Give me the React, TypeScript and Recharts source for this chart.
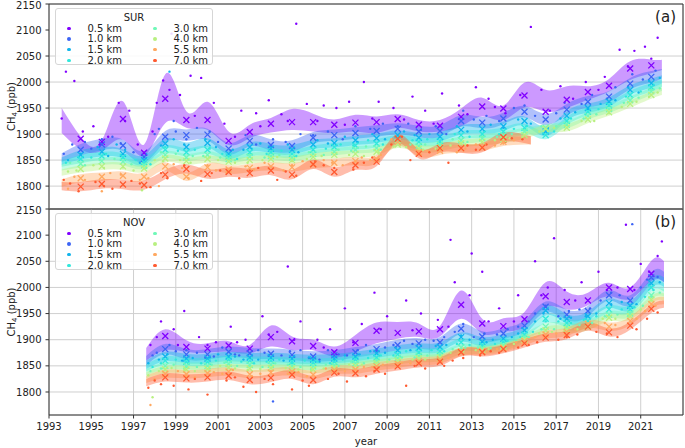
import { ComposedChart, Area, Scatter, XAxis, YAxis, CartesianGrid, ReferenceArea } from 'recharts';

const ALTS = ['0.5 km', '1.0 km', '1.5 km', '2.0 km', '3.0 km', '4.0 km', '5.5 km', '7.0 km'];
const COLORS = ['#8000ff', '#3c64f5', '#10b4ec', '#30e8dc', '#70f8b8', '#b8f080', '#ffa860', '#ff5a30'];
const YEAR_TICKS = [1993, 1995, 1997, 1999, 2001, 2003, 2005, 2007, 2009, 2011, 2013, 2015, 2017, 2019, 2021];
const Y_TICKS = [1800, 1850, 1900, 1950, 2000, 2050, 2100, 2150];

// ---- SUR (panel a) annual means ----
const SUR_YEARS = [1994.5, 1995.5, 1996.5, 1997.5, 1998.5, 1999.5, 2000.5, 2001.5, 2002.5, 2003.5, 2004.5, 2005.5, 2006.5, 2007.5, 2008.5, 2009.5, 2010.5, 2011.5, 2012.5, 2013.5, 2014.5, 2015.5, 2016.5, 2017.5, 2018.5, 2019.5, 2020.5, 2021.5];
const SUR_05 = [1891, 1885, 1929, 1864, 1968, 1927, 1927, 1887, 1904, 1920, 1923, 1923, 1918, 1922, 1923, 1929, 1918, 1916, 1933, 1953, 1949, 1974, 1943, 1966, 1981, 1993, 2026, 2032];
const SUR_10 = [1870, 1880, 1878, 1856, 1895, 1898, 1899, 1872, 1887, 1879, 1877, 1893, 1898, 1902, 1906, 1910, 1905, 1906, 1925, 1922, 1930, 1943, 1928, 1947, 1962, 1972, 1997, 2010];
const SUR_15 = [1860, 1866, 1862, 1850, 1882, 1875, 1883, 1862, 1875, 1872, 1870, 1880, 1883, 1888, 1892, 1898, 1893, 1895, 1908, 1910, 1915, 1925, 1905, 1935, 1950, 1962, 1985, 1998];
const SUR_20 = [1852, 1858, 1855, 1846, 1870, 1865, 1870, 1857, 1865, 1865, 1862, 1870, 1875, 1878, 1882, 1890, 1885, 1887, 1898, 1900, 1905, 1912, 1898, 1925, 1943, 1955, 1975, 1990];
const SUR_30 = [1843, 1848, 1847, 1840, 1860, 1855, 1860, 1852, 1857, 1858, 1855, 1862, 1866, 1870, 1873, 1885, 1877, 1880, 1888, 1892, 1898, 1905, 1912, 1918, 1935, 1948, 1965, 1982];
const SUR_40 = [1833, 1838, 1838, 1834, 1853, 1848, 1852, 1847, 1850, 1852, 1850, 1856, 1860, 1862, 1866, 1880, 1872, 1874, 1882, 1885, 1890, 1898, 1910, 1912, 1928, 1942, 1958, 1975];
const SUR_55 = [1815, 1818, 1820, 1818, 1838, 1818, 1836, 1832, 1835, 1838, 1836, 1842, 1845, 1848, 1852, 1885, 1865, 1868, 1872, 1875, 1885];
const SUR_70 = [1799, 1804, 1803, 1802, 1822, 1833, 1823, 1827, 1825, 1830, 1822, 1842, 1827, 1840, 1847, 1891, 1862, 1873, 1873, 1874, 1894];
// smoothed band for 0.5 km (centre, half width)
const SUR_BAND05_MID = [1883, 1878, 1926, 1869, 1968, 1928, 1935, 1892, 1905, 1917, 1928, 1922, 1915, 1921, 1918, 1925, 1916, 1916, 1932, 1952, 1941, 1975, 1964, 1971, 1979, 1994, 2022, 2030];
const SUR_BAND05_HALF = [12, 10, 37, 11, 47, 16, 27, 13, 13, 14, 20, 17, 13, 16, 16, 13, 11, 11, 17, 18, 14, 24, 21, 21, 13, 12, 18, 13];
const SUR_BAND_HALF = [0, 11, 9, 8, 7, 7, 8, 9];
const SUR_START_T = 1993.6;
const SUR_START_MID = [1926, 1855, 1848, 1843, 1836, 1826, 1806, 1800];
const SUR_START_HALF = [24, 8, 7, 6, 6, 6, 7, 8];
const SUR_END_T = [2022, 2022, 2022, 2022, 2022, 2022, 2015.8, 2015.8];
const SUR_END_MID = [2033, 2016, 2005, 1998, 1990, 1982, 1888, 1888];
const SUR_END_HALF = [10, 9, 8, 7, 7, 7, 8, 8];

// ---- NOV (panel b) annual means ----
const NOV_YEARS = [1998.5, 1999.5, 2000.5, 2001.5, 2002.5, 2003.5, 2004.5, 2005.5, 2006.5, 2007.5, 2008.5, 2009.5, 2010.5, 2011.5, 2012.5, 2013.5, 2014.5, 2015.5, 2016.5, 2017.5, 2018.5, 2019.5, 2020.5, 2021.5];
const NOV_05 = [1907, 1886, 1883, 1889, 1883, 1905, 1897, 1888, 1876, 1894, 1917, 1913, 1916, 1920, 1967, 1931, 1926, 1939, 1983, 1972, 1975, 2000, 1997, 2026];
const NOV_10 = [1882, 1872, 1872, 1877, 1874, 1873, 1871, 1868, 1870, 1876, 1882, 1890, 1893, 1895, 1921, 1906, 1912, 1927, 1963, 1948, 1955, 1985, 1975, 2019];
const NOV_15 = [1868, 1864, 1864, 1868, 1866, 1866, 1864, 1862, 1864, 1868, 1874, 1880, 1884, 1886, 1905, 1896, 1902, 1918, 1956, 1940, 1945, 1970, 1965, 2008];
const NOV_20 = [1860, 1858, 1858, 1862, 1860, 1860, 1858, 1856, 1858, 1862, 1866, 1872, 1876, 1878, 1895, 1890, 1896, 1910, 1940, 1932, 1936, 1958, 1958, 2000];
const NOV_30 = [1850, 1850, 1850, 1854, 1852, 1852, 1850, 1849, 1851, 1855, 1860, 1865, 1869, 1871, 1885, 1884, 1890, 1905, 1925, 1925, 1930, 1948, 1950, 1985];
const NOV_40 = [1843, 1843, 1844, 1847, 1845, 1846, 1845, 1843, 1846, 1850, 1855, 1860, 1864, 1866, 1878, 1880, 1886, 1900, 1918, 1920, 1925, 1942, 1945, 1977];
const NOV_55 = [1835, 1834, 1836, 1839, 1834, 1837, 1839, 1833, 1842, 1843, 1849, 1854, 1859, 1862, 1877, 1878, 1884, 1897, 1910, 1915, 1930, 1925, 1936, 1968];
const NOV_70 = [1828, 1826, 1828, 1831, 1823, 1827, 1833, 1823, 1837, 1836, 1843, 1849, 1855, 1858, 1876, 1876, 1882, 1893, 1904, 1909, 1925, 1914, 1927, 1959];
const NOV_BAND05_MID = [1900, 1888, 1884, 1887, 1882, 1907, 1893, 1890, 1877, 1893, 1913, 1918, 1918, 1916, 1967, 1926, 1928, 1939, 1986, 1975, 1978, 1996, 1989, 2032];
const NOV_BAND05_HALF = [20, 11, 9, 10, 8, 20, 13, 10, 10, 16, 20, 16, 13, 10, 27, 14, 13, 14, 24, 17, 12, 13, 11, 19];
const NOV_BAND_HALF = [0, 10, 9, 8, 7, 7, 8, 8];
const NOV_START_T = 1997.6;
const NOV_START_MID = [1872, 1860, 1852, 1846, 1838, 1832, 1824, 1818];
const NOV_START_HALF = [12, 9, 8, 7, 6, 6, 7, 7];
const NOV_END_T = [2022.1, 2022.1, 2022.1, 2022.1, 2022.1, 2022.1, 2022.1, 2022.1];
const NOV_END_MID = [2030, 2020, 2010, 2000, 1990, 1982, 1975, 1968];
const NOV_END_HALF = [20, 10, 9, 8, 7, 7, 7, 7];

// ---- individual measurements [time, ppb] ----
const SUR_DOTS_05 = [[1993.8, 2020], [1994.2, 2002], [1994.6, 1905], [1995.1, 1915], [1995.8, 1895], [1996.3, 1960], [1996.8, 1945], [1997.2, 1880], [1997.9, 1905], [1998.4, 2003], [1998.8, 2093], [1998.7, 1985], [1999.2, 1975], [1999.7, 2012], [2000.2, 2008], [2000.8, 1960], [2001.3, 1920], [2002.1, 1945], [2002.8, 1940], [2003.4, 1965], [2004.0, 1938], [2004.7, 2112], [2005.2, 1958], [2006.0, 1955], [2006.6, 1950], [2007.2, 1962], [2007.9, 2000], [2008.6, 1962], [2009.3, 1950], [2010.2, 1972], [2010.8, 1945], [2011.6, 1978], [2012.4, 1955], [2013.2, 1990], [2013.8, 1968], [2014.6, 1940], [2015.8, 2106], [2016.3, 1985], [2017.2, 1992], [2018.4, 2000], [2019.3, 2010], [2020.0, 2062], [2020.7, 2060], [2021.2, 2068], [2021.8, 2085], [2021.5, 2045],
  [1993.6, 1930], [1995.4, 1880], [1996.6, 1925], [1998.1, 1960], [1999.9, 1935], [2001.8, 1895], [2003.0, 1915], [2004.3, 1925], [2005.7, 1925], [2007.0, 1918], [2008.3, 1930], [2009.8, 1928], [2011.2, 1920], [2012.8, 1938], [2014.1, 1952], [2015.3, 1975], [2016.7, 1945], [2017.8, 1968], [2019.0, 1985], [2020.4, 2030]];
const SUR_DOTS_10 = [[1994.1, 1880], [1995.0, 1872], [1996.0, 1895], [1997.0, 1865], [1998.2, 1910], [1999.0, 1905], [2000.0, 1912], [2001.0, 1885], [2002.3, 1898], [2003.6, 1890], [2004.9, 1900], [2006.2, 1905], [2007.5, 1915], [2008.8, 1920], [2010.0, 1920], [2011.3, 1915], [2012.6, 1945], [2013.7, 1935], [2015.0, 1950], [2016.0, 1935], [2017.4, 1960], [2018.7, 1975], [2019.8, 1990], [2020.6, 2015], [2021.7, 2022],
  [1993.7, 1862], [1994.7, 1885], [1995.5, 1890], [1996.4, 1882], [1997.4, 1848], [1998.0, 1900], [1998.9, 1925], [1999.5, 1890], [2000.6, 1905], [2001.6, 1868], [2002.8, 1880], [2004.2, 1885], [2005.5, 1898], [2006.9, 1890], [2008.2, 1910], [2009.5, 1915], [2010.6, 1908], [2011.8, 1900], [2013.1, 1928], [2014.3, 1925], [2015.5, 1955], [2017.0, 1940], [2018.2, 1958], [2019.4, 1968], [2021.1, 2005]];
const SUR_DOTS_15 = [[1993.9, 1850], [1995.3, 1875], [1996.6, 1870], [1997.6, 1862], [1998.7, 2020], [1998.9, 1890], [2000.4, 1890], [2001.7, 1870], [2003.0, 1882], [2004.3, 1880], [2005.7, 1888], [2007.0, 1895], [2008.3, 1900], [2009.8, 1905], [2011.0, 1900], [2012.3, 1915], [2013.9, 1918], [2015.2, 1928], [2016.6, 1912], [2017.9, 1942], [2019.1, 1958], [2020.4, 1990], [2021.4, 2002],
  [1994.5, 1862], [1995.8, 1858], [1996.2, 1880], [1997.3, 1845], [1998.3, 1878], [1999.4, 1880], [2000.9, 1875], [2002.2, 1870], [2003.5, 1876], [2004.8, 1865], [2006.2, 1882], [2007.6, 1885], [2008.9, 1890], [2010.3, 1898], [2011.6, 1890], [2012.8, 1905], [2014.5, 1912], [2015.8, 1920], [2017.2, 1930], [2018.5, 1948], [2019.8, 1965], [2020.9, 1980], [2021.9, 2008]];
const SUR_DOTS_20 = [[1994.4, 1855], [1995.7, 1862], [1997.1, 1850], [1998.5, 1875], [1999.9, 1870], [2001.2, 1862], [2002.6, 1872], [2004.0, 1868], [2005.4, 1875], [2006.8, 1880], [2008.1, 1888], [2009.5, 1895], [2010.9, 1890], [2012.2, 1900], [2013.6, 1905], [2015.0, 1910], [2016.4, 1900], [2017.7, 1930], [2019.0, 1948], [2020.3, 1972], [2021.6, 1995],
  [1993.8, 1845], [1995.0, 1855], [1996.4, 1860], [1997.8, 1842], [1999.1, 1868], [2000.6, 1872], [2001.9, 1852], [2003.3, 1862], [2004.7, 1858], [2006.1, 1872], [2007.4, 1878], [2008.8, 1880], [2010.2, 1888], [2011.5, 1884], [2012.9, 1895], [2014.3, 1900], [2015.6, 1915], [2016.9, 1905], [2018.4, 1938], [2019.6, 1958], [2021.0, 1982]];
const SUR_DOTS_30 = [[1994.0, 1845], [1995.4, 1850], [1996.9, 1842], [1998.3, 1865], [1999.8, 1858], [2001.1, 1855], [2002.5, 1862], [2003.9, 1860], [2005.3, 1865], [2006.7, 1870], [2008.0, 1876], [2009.4, 1888], [2010.8, 1880], [2012.1, 1890], [2013.5, 1895], [2014.9, 1900], [2016.3, 1915], [2017.6, 1922], [2018.9, 1938], [2020.2, 1960], [2021.5, 1985],
  [1994.7, 1840], [1996.1, 1852], [1997.6, 1835], [1999.0, 1862], [2000.3, 1858], [2001.8, 1850], [2003.2, 1855], [2004.6, 1852], [2006.0, 1860], [2007.3, 1868], [2008.7, 1870], [2010.1, 1880], [2011.4, 1878], [2012.8, 1885], [2014.2, 1895], [2015.5, 1908], [2017.0, 1915], [2018.3, 1930], [2019.6, 1945], [2020.9, 1970], [2021.9, 1988]];
const SUR_DOTS_40 = [[1994.3, 1830], [1995.6, 1835], [1997.0, 1830], [1997.4, 1792], [1998.4, 1848], [1999.7, 1845], [2001.0, 1850], [2002.4, 1845], [2003.8, 1856], [2005.2, 1852], [2006.6, 1862], [2007.9, 1858], [2009.3, 1876], [2010.7, 1870], [2012.0, 1878], [2013.4, 1888], [2014.8, 1892], [2016.2, 1905], [2017.5, 1918], [2018.8, 1925], [2020.1, 1952], [2021.4, 1972],
  [1993.9, 1828], [1995.1, 1840], [1996.5, 1836], [1998.0, 1850], [1999.2, 1850], [2000.6, 1855], [2001.8, 1845], [2003.1, 1850], [2004.5, 1848], [2005.9, 1858], [2007.2, 1860], [2008.6, 1865], [2009.9, 1875], [2011.3, 1872], [2012.7, 1880], [2014.1, 1888], [2015.4, 1895], [2016.9, 1912], [2018.2, 1925], [2019.5, 1940], [2020.8, 1962], [2021.8, 1980]];
const SUR_DOTS_55 = [[1993.9, 1795], [1994.7, 1812], [1995.5, 1790], [1996.4, 1822], [1997.3, 1812], [1998.2, 1800], [1998.9, 1842], [1999.6, 1815], [2000.5, 1840], [2001.4, 1825], [2002.3, 1838], [2003.2, 1845], [2004.1, 1830], [2005.0, 1848], [2006.0, 1850], [2006.9, 1840], [2007.8, 1855], [2008.7, 1860], [2009.6, 1880], [2010.5, 1862], [2011.4, 1872], [2012.3, 1865], [2013.2, 1880], [2014.1, 1878], [2015.0, 1888],
  [1994.2, 1818], [1995.9, 1825], [1997.7, 1815], [1999.3, 1835], [2000.9, 1830], [2002.7, 1832], [2004.5, 1840], [2006.4, 1845], [2008.2, 1850], [2009.2, 1890], [2010.9, 1868], [2012.7, 1872], [2014.5, 1882], [2015.4, 1892]];
const SUR_DOTS_70 = [[1993.7, 1812], [1994.4, 1790], [1995.2, 1808], [1996.0, 1795], [1996.9, 1810], [1997.8, 1798], [1998.6, 1815], [1999.4, 1840], [2000.2, 1810], [2001.1, 1830], [2002.0, 1815], [2002.9, 1835], [2003.8, 1812], [2004.7, 1820], [2005.6, 1848], [2006.5, 1835], [2007.4, 1832], [2008.3, 1855], [2009.2, 1880], [2010.1, 1850], [2011.0, 1865], [2011.9, 1845], [2012.8, 1878], [2013.7, 1880], [2014.6, 1885], [2015.4, 1890],
  [1994.0, 1805], [1995.6, 1800], [1997.3, 1805], [1998.3, 1825], [2000.7, 1825], [2002.5, 1830], [2004.2, 1828], [2006.0, 1840], [2007.9, 1845], [2009.7, 1895], [2011.4, 1870], [2013.2, 1870], [2014.9, 1892]];

const NOV_DOTS_05 = [[1997.8, 1890], [1998.3, 1935], [1998.9, 1920], [1999.4, 1955], [2000.1, 1905], [2000.9, 1895], [2001.6, 1925], [2002.3, 1900], [2003.1, 1945], [2003.8, 1915], [2004.3, 2040], [2004.9, 1935], [2005.7, 1900], [2006.3, 1920], [2007.0, 1960], [2007.8, 1930], [2008.4, 1990], [2009.0, 1945], [2009.9, 1975], [2010.6, 1950], [2011.4, 1938], [2012.0, 2091], [2012.2, 2010], [2012.9, 1985], [2013.0, 2065], [2013.5, 2030], [2014.3, 1960], [2015.2, 1985], [2016.0, 2050], [2016.6, 2000], [2016.9, 2094], [2017.4, 1995], [2018.2, 2010], [2019.0, 2030], [2019.9, 2000], [2020.3, 2120], [2021.0, 2045], [2021.8, 2060], [2022.0, 2088],
  [1998.1, 1905], [1999.1, 1890], [2000.5, 1890], [2001.9, 1895], [2003.4, 1910], [2004.6, 1900], [2006.0, 1885], [2007.4, 1895], [2008.7, 1920], [2010.2, 1918], [2011.9, 1925], [2013.8, 1935], [2015.0, 1935], [2016.3, 1985], [2017.9, 1975], [2019.4, 1995], [2020.7, 1995], [2021.4, 2030]];
const NOV_DOTS_10 = [[1997.9, 1870], [1998.7, 1890], [1999.5, 1880], [2000.4, 1865], [2001.2, 1885], [2002.0, 1870], [2002.9, 1880], [2003.6, 1782], [2004.4, 1878], [2005.3, 1865], [2006.2, 1880], [2007.1, 1870], [2008.0, 1890], [2008.9, 1885], [2009.8, 1898], [2010.8, 1900], [2011.7, 1905], [2012.6, 1930], [2013.6, 1912], [2014.7, 1920], [2015.7, 1935], [2016.5, 1965], [2017.6, 1955], [2018.6, 1960], [2019.6, 1990], [2020.6, 2121], [2021.3, 2015],
  [1998.1, 1875], [1999.0, 1878], [2000.0, 1875], [2000.8, 1868], [2001.8, 1872], [2003.2, 1875], [2004.0, 1870], [2004.9, 1880], [2005.8, 1862], [2006.7, 1872], [2007.6, 1880], [2008.5, 1878], [2009.3, 1890], [2010.2, 1892], [2011.2, 1898], [2012.2, 1915], [2013.1, 1905], [2014.2, 1910], [2015.2, 1925], [2016.0, 1950], [2017.1, 1945], [2018.1, 1958], [2019.1, 1975], [2020.0, 1985], [2021.0, 2000], [2021.8, 2020]];
const NOV_DOTS_15 = [[1997.7, 1855], [1998.6, 1872], [1999.8, 1865], [2001.0, 1872], [2002.2, 1862], [2003.4, 1870], [2004.6, 1868], [2005.8, 1858], [2007.0, 1870], [2008.2, 1878], [2009.4, 1885], [2010.6, 1888], [2011.8, 1890], [2012.9, 1900], [2014.0, 1900], [2015.2, 1912], [2016.4, 1950], [2017.7, 1942], [2018.9, 1950], [2020.1, 1972], [2021.4, 2005],
  [1998.2, 1862], [1999.3, 1860], [2000.6, 1866], [2001.8, 1868], [2002.9, 1862], [2004.1, 1860], [2005.3, 1866], [2006.5, 1860], [2007.7, 1872], [2008.9, 1875], [2010.1, 1880], [2011.3, 1888], [2012.5, 1908], [2013.7, 1895], [2014.9, 1905], [2016.0, 1935], [2017.2, 1940], [2018.4, 1945], [2019.6, 1968], [2020.8, 1968], [2021.9, 2010]];
const NOV_DOTS_20 = [[1997.9, 1848], [1999.0, 1862], [2000.2, 1855], [2001.5, 1866], [2002.7, 1855], [2003.9, 1862], [2005.1, 1860], [2006.3, 1855], [2007.5, 1865], [2008.7, 1870], [2009.9, 1878], [2011.1, 1880], [2012.3, 1892], [2013.5, 1888], [2014.7, 1898], [2015.9, 1915], [2017.1, 1935], [2018.3, 1938], [2019.5, 1960], [2020.7, 1962], [2021.6, 1995],
  [1998.3, 1855], [1999.6, 1855], [2000.9, 1860], [2002.1, 1858], [2003.3, 1858], [2004.5, 1855], [2005.7, 1858], [2006.9, 1862], [2008.1, 1865], [2009.3, 1870], [2010.5, 1875], [2011.7, 1878], [2012.9, 1890], [2014.1, 1892], [2015.3, 1905], [2016.5, 1935], [2017.7, 1932], [2018.9, 1945], [2020.1, 1958], [2021.2, 1982]];
const NOV_DOTS_30 = [[1997.8, 1840], [1998.9, 1852], [2000.0, 1848], [2001.3, 1856], [2002.5, 1850], [2003.7, 1855], [2004.9, 1848], [2006.1, 1852], [2007.3, 1858], [2008.5, 1862], [2009.7, 1866], [2010.9, 1870], [2012.1, 1882], [2013.3, 1885], [2014.5, 1888], [2015.7, 1905], [2016.9, 1920], [2018.1, 1928], [2019.3, 1945], [2020.5, 1952], [2021.5, 1982],
  [1998.3, 1845], [1999.5, 1848], [2000.7, 1852], [2001.9, 1850], [2003.1, 1848], [2004.3, 1852], [2005.5, 1850], [2006.7, 1850], [2007.9, 1855], [2009.1, 1862], [2010.3, 1866], [2011.5, 1872], [2012.7, 1885], [2013.9, 1884], [2015.1, 1898], [2016.3, 1920], [2017.5, 1925], [2018.7, 1932], [2019.9, 1948], [2021.1, 1965], [2021.9, 1990]];
const NOV_DOTS_40 = [[1997.7, 1832], [1997.9, 1790], [1998.8, 1846], [1999.9, 1840], [2001.1, 1850], [2002.4, 1842], [2003.6, 1848], [2004.8, 1843], [2006.0, 1845], [2007.2, 1852], [2008.4, 1855], [2009.6, 1862], [2010.8, 1862], [2012.0, 1875], [2013.2, 1880], [2014.4, 1885], [2015.6, 1898], [2016.8, 1915], [2018.0, 1920], [2019.2, 1940], [2020.4, 1945], [2021.5, 1975],
  [1998.2, 1840], [1999.4, 1842], [2000.6, 1845], [2001.8, 1845], [2003.0, 1844], [2004.2, 1846], [2005.4, 1842], [2006.6, 1848], [2007.8, 1852], [2009.0, 1858], [2010.2, 1862], [2011.4, 1866], [2012.6, 1878], [2013.8, 1882], [2015.0, 1892], [2016.2, 1912], [2017.4, 1918], [2018.6, 1926], [2019.8, 1940], [2021.0, 1958]];
const NOV_DOTS_55 = [[1997.8, 1775], [1998.4, 1830], [1999.1, 1840], [1999.9, 1828], [2000.8, 1838], [2001.7, 1842], [2002.6, 1830], [2003.5, 1840], [2004.3, 1835], [2005.2, 1830], [2006.1, 1845], [2007.0, 1840], [2007.9, 1848], [2008.8, 1852], [2009.7, 1856], [2010.6, 1860], [2011.5, 1865], [2012.4, 1875], [2013.3, 1880], [2014.2, 1882], [2015.1, 1895], [2016.0, 1905], [2017.0, 1912], [2017.9, 1920], [2018.9, 1928], [2019.8, 1928], [2020.8, 1940], [2021.7, 1965],
  [1998.0, 1825], [1999.5, 1830], [2001.2, 1835], [2003.0, 1835], [2004.8, 1838], [2006.6, 1842], [2008.3, 1848], [2010.1, 1855], [2011.9, 1865], [2013.7, 1878], [2015.5, 1898], [2017.4, 1915], [2019.3, 1932], [2021.2, 1955]];
const NOV_DOTS_70 = [[1997.7, 1808], [1998.3, 1815], [1998.9, 1812], [1999.6, 1805], [2000.5, 1795], [2001.4, 1822], [2002.2, 1810], [2002.8, 1800], [2003.6, 1815], [2004.5, 1805], [2005.3, 1812], [2006.2, 1825], [2007.1, 1820], [2008.0, 1830], [2008.9, 1835], [2009.9, 1812], [2010.8, 1845], [2011.7, 1850], [2012.6, 1865], [2013.4, 1870], [2014.3, 1875], [2015.2, 1885], [2016.1, 1895], [2017.1, 1900], [2018.0, 1910], [2018.9, 1915], [2019.9, 1905], [2020.8, 1920], [2021.8, 1952],
  [1998.0, 1822], [1999.9, 1825], [2001.8, 1828], [2003.2, 1825], [2005.0, 1822], [2006.7, 1835], [2008.4, 1840], [2010.3, 1850], [2012.1, 1860], [2013.9, 1878], [2015.7, 1890], [2017.5, 1905], [2019.4, 1912], [2021.3, 1940]];

const SUR_MEANS = [SUR_05, SUR_10, SUR_15, SUR_20, SUR_30, SUR_40, SUR_55, SUR_70];
const NOV_MEANS = [NOV_05, NOV_10, NOV_15, NOV_20, NOV_30, NOV_40, NOV_55, NOV_70];
const SUR_DOTS = [SUR_DOTS_05, SUR_DOTS_10, SUR_DOTS_15, SUR_DOTS_20, SUR_DOTS_30, SUR_DOTS_40, SUR_DOTS_55, SUR_DOTS_70];
const NOV_DOTS = [NOV_DOTS_05, NOV_DOTS_10, NOV_DOTS_15, NOV_DOTS_20, NOV_DOTS_30, NOV_DOTS_40, NOV_DOTS_55, NOV_DOTS_70];

const FONT = 'DejaVu Sans, sans-serif';

function buildBands(
  years: number[], means: number[][], mid05: number[], half05: number[], halves: number[],
  startT: number, startMid: number[], startHalf: number[],
  endT: number[], endMid: number[], endHalf: number[],
) {
  const rows = new Map<number, any>();
  const put = (t: number, key: string, mid: number, half: number) => {
    if (!rows.has(t)) rows.set(t, { t });
    rows.get(t)[key] = [mid - half, mid + half];
  };
  means.forEach((m, i) => {
    const key = 'b' + i;
    put(startT, key, startMid[i], startHalf[i]);
    m.forEach((v, k) => put(years[k], key, i === 0 ? mid05[k] : v, i === 0 ? half05[k] : halves[i]));
    put(endT[i], key, endMid[i], endHalf[i]);
  });
  return [...rows.values()].sort((a, b) => a.t - b.t);
}

const SUR_ROWS = buildBands(SUR_YEARS, SUR_MEANS, SUR_BAND05_MID, SUR_BAND05_HALF, SUR_BAND_HALF,
  SUR_START_T, SUR_START_MID, SUR_START_HALF, SUR_END_T, SUR_END_MID, SUR_END_HALF);
const NOV_ROWS = buildBands(NOV_YEARS, NOV_MEANS, NOV_BAND05_MID, NOV_BAND05_HALF, NOV_BAND_HALF,
  NOV_START_T, NOV_START_MID, NOV_START_HALF, NOV_END_T, NOV_END_MID, NOV_END_HALF);

const cross = (color: string) => (p: any) => {
  const { cx, cy } = p;
  if (cx == null || cy == null) return <g />;
  const s = 3;
  return (
    <path d={`M${cx - s},${cy - s}L${cx + s},${cy + s}M${cx - s},${cy + s}L${cx + s},${cy - s}`}
      stroke={color} strokeWidth={1.3} fill="none" />
  );
};

const dot = (color: string) => (p: any) => {
  const { cx, cy } = p;
  if (cx == null || cy == null) return <g />;
  return <circle cx={cx} cy={cy} r={1.2} fill={color} />;
};

const YLabel = ({ viewBox }: any) => {
  const cx = 15;
  const cy = viewBox.y + viewBox.height / 2;
  return (
    <text x={cx} y={cy} transform={`rotate(-90 ${cx} ${cy})`} textAnchor="middle" fontSize={10} fill="#222" fontFamily={FONT}>
      CH<tspan fontSize={7} dy={2}>4</tspan><tspan dy={-2}> (ppb)</tspan>
    </text>
  );
};

function LegendBox({ title, top }: { title: string; top: number }) {
  return (
    <div style={{
      position: 'absolute', left: 55, top, width: 158, height: 57, border: '1px solid #d6d6d6', borderRadius: 3,
      background: 'rgba(255,255,255,0.85)', fontFamily: FONT, fontSize: 10, color: '#222', boxSizing: 'border-box',
    }}>
      <div style={{ position: 'absolute', top: 3, left: 0, width: '100%', textAlign: 'center', lineHeight: '11px' }}>{title}</div>
      {ALTS.map((a, i) => {
        const col = i < 4 ? 0 : 1;
        const row = i % 4;
        const y = 13.5 + row * 10.7;
        return (
          <div key={a} style={{ position: 'absolute', top: y, left: col ? 86 : 0, lineHeight: '11px' }}>
            <span style={{ position: 'absolute', left: 11, top: 4, width: 3.5, height: 3.5, borderRadius: 2, background: COLORS[i] }} />
            <span style={{ position: 'absolute', left: 31.5, top: 0, whiteSpace: 'nowrap' }}>{a}</span>
          </div>
        );
      })}
    </div>
  );
}

function Panel({ rows, years, means, dots, showX, height, margin, letter }: any) {
  return (
    <ComposedChart width={685} height={height} data={rows} margin={margin}>
      <CartesianGrid stroke="#cfcfcf" strokeWidth={1} />
      <XAxis dataKey="t" type="number" domain={[1993, 2023]} ticks={YEAR_TICKS} allowDataOverflow
        height={showX ? 33 : 0} axisLine={false} tick={showX ? { fontSize: 10, fill: '#222', fontFamily: FONT } : false}
        tickLine={showX ? { stroke: '#333' } : false} tickSize={3.5} tickMargin={4.5}
        label={showX ? { value: 'year', position: 'insideBottom', offset: 3.5, fontSize: 10, fill: '#222', fontFamily: FONT } : undefined} />
      <YAxis type="number" domain={[1756, 2150]} ticks={Y_TICKS} allowDataOverflow width={49} axisLine={false}
        tick={{ fontSize: 10, fill: '#222', fontFamily: FONT }} tickLine={{ stroke: '#333' }} tickSize={3.5} tickMargin={4}
        label={{ content: <YLabel /> }} />
      {ALTS.map((a, i) => (
        <Area key={'band' + a} dataKey={'b' + i} type="natural" stroke="none" fill={COLORS[i]} fillOpacity={0.4}
          connectNulls isAnimationActive={false} dot={false} activeDot={false} />
      ))}
      {ALTS.map((a, i) => (
        <Scatter key={'dots' + a} data={dots[i].map((d: number[]) => ({ t: d[0], v: d[1] }))} dataKey="v"
          shape={dot(COLORS[i])} isAnimationActive={false} />
      ))}
      {ALTS.map((a, i) => (
        <Scatter key={'mean' + a} data={means[i].map((v: number, k: number) => ({ t: years[k], v }))} dataKey="v"
          shape={cross(COLORS[i])} isAnimationActive={false} />
      ))}
      <ReferenceArea x1={1993} x2={2023} y1={1756} y2={2150} fill="none" stroke="#333" strokeWidth={1} ifOverflow="visible"
        label={{ value: letter, position: 'insideTopRight', offset: 7, fontSize: 15, fill: '#222', fontFamily: FONT }} />
    </ComposedChart>
  );
}

export default function App() {
  return (
    <div style={{ position: 'absolute', left: 0, top: 0, width: 685, height: 448, background: '#fff', fontFamily: FONT }}>
      <div style={{ position: 'absolute', left: 0, top: 0 }}>
        <Panel rows={SUR_ROWS} years={SUR_YEARS} means={SUR_MEANS} dots={SUR_DOTS} showX={false} height={212}
          margin={{ top: 4, right: 2, bottom: 3, left: 0 }} letter="(a)" />
      </div>
      <div style={{ position: 'absolute', left: 0, top: 205 }}>
        <Panel rows={NOV_ROWS} years={NOV_YEARS} means={NOV_MEANS} dots={NOV_DOTS} showX height={243}
          margin={{ top: 4, right: 2, bottom: 0, left: 0 }} letter="(b)" />
      </div>
      <LegendBox title="SUR" top={8} />
      <LegendBox title="NOV" top={213} />
    </div>
  );
}
